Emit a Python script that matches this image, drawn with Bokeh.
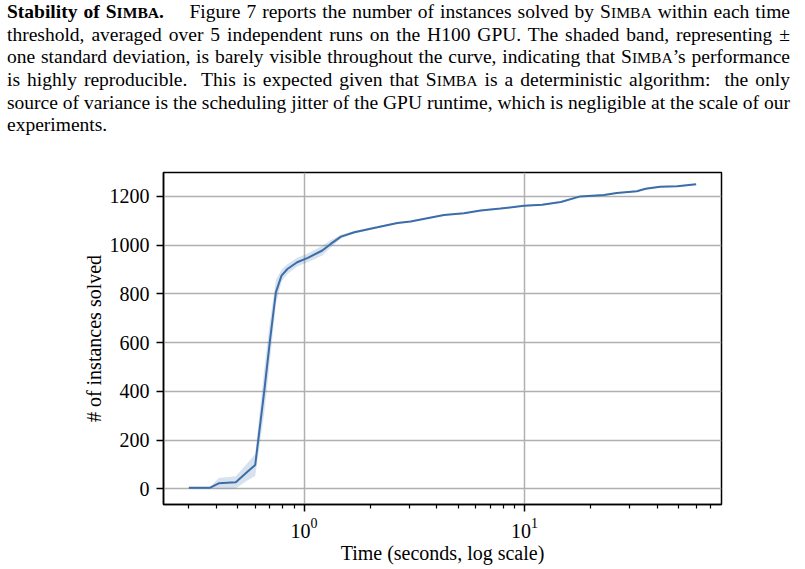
from bokeh.plotting import figure
from bokeh.models import Range1d, FixedTicker, Div, ColumnDataSource
from bokeh.layouts import column
from bokeh.embed import file_html
from bokeh.resources import INLINE

# ---- data ----
time_s = [0.3, 0.375, 0.41, 0.49, 0.55, 0.6, 0.66, 0.70, 0.745, 0.79, 0.84, 0.93,
          1.04, 1.21, 1.32, 1.47, 1.69, 2.15, 2.65, 3.04, 4.31, 5.31, 6.32, 7.78,
          9.93, 12.0, 14.6, 17.9, 22.9, 26.2, 32.3, 35.4, 41.2, 49.3, 60.0]
mean_solved = [5, 5, 23, 27, 68, 98, 403, 608, 807, 875, 902, 930,
               948, 978, 1005, 1035, 1053, 1073, 1091, 1097, 1124, 1131, 1142, 1150,
               1162, 1166, 1177, 1200, 1206, 1214, 1221, 1231, 1240, 1242, 1250]
std_solved = [2, 3, 22, 25, 35, 45, 90, 80, 50, 25, 20, 18,
              18, 20, 15, 8, 5, 4, 3, 3, 3, 3, 3, 3,
              3, 3, 3, 3, 3, 3, 3, 3, 3, 3, 3]
y_ticks = [0, 200, 400, 600, 800, 1000, 1200]
x_major_ticks = [1, 10]
x_minor_ticks = [m * 10 ** k for k in (-1, 0, 1) for m in range(2, 10)]

x_label = "Time (seconds, log scale)"
y_label = "# of instances solved"

LINE = "#3b6ea8"
FONT = "Liberation Serif"
FS = "20px"

lower = [m - s for m, s in zip(mean_solved, std_solved)]
upper = [m + s for m, s in zip(mean_solved, std_solved)]
src = ColumnDataSource(dict(t=time_s, mean=mean_solved, lower=lower, upper=upper))

sc = lambda s: 'S<span style="font-size:0.8em">%s</span>' % s
lines = [
    '<b>Stability of %s.</b>&emsp; Figure 7 reports the number of instances solved by %s within each time' % (sc("IMBA"), sc("IMBA")),
    'threshold, averaged over 5 independent runs on the H100 GPU. The shaded band, representing &plusmn;',
    'one standard deviation, is barely visible throughout the curve, indicating that %s&rsquo;s performance' % sc("IMBA"),
    'is highly reproducible.&nbsp; This is expected given that %s is a deterministic algorithm:&nbsp; the only' % sc("IMBA"),
    'source of variance is the scheduling jitter of the GPU runtime, which is negligible at the scale of our',
]
html = ('<div style="font-family:\'Liberation Serif\',serif;font-size:19.5px;line-height:22px;color:#000;'
        'width:790px;padding-left:7px;padding-top:1px;margin:0;">')
for ln in lines:
    html += '<div style="text-align:justify;text-align-last:justify;white-space:nowrap;">%s</div>' % ln
html += '<div style="text-align:left;">experiments.</div></div>'

div = Div(text=html, width=805, height=140, margin=0)

p = figure(width=805, height=429, x_axis_type="log",
           x_range=Range1d(0.2303, 78.2), y_range=Range1d(-64, 1298),
           output_backend="svg", toolbar_location=None,
           min_border_left=163, min_border_right=84, min_border_top=32, min_border_bottom=65,
           margin=0)

p.varea(x="t", y1="lower", y2="upper", source=src, fill_color=LINE, fill_alpha=0.2)
p.line(x="t", y="mean", source=src, line_color=LINE, line_width=2)

p.xaxis.ticker = FixedTicker(ticks=x_major_ticks, minor_ticks=x_minor_ticks)
p.yaxis.ticker = FixedTicker(ticks=y_ticks, minor_ticks=[])
p.xaxis.axis_label = x_label
p.yaxis.axis_label = y_label

for ax in (p.xaxis, p.yaxis):
    ax.axis_label_text_font = FONT
    ax.axis_label_text_font_style = "normal"
    ax.axis_label_text_font_size = FS
    ax.axis_label_text_color = "black"
    ax.major_label_text_font = FONT
    ax.major_label_text_font_size = FS
    ax.major_label_text_color = "black"
    ax.axis_line_color = "black"
    ax.axis_line_width = 1.5
    ax.major_tick_line_color = "black"
    ax.major_tick_line_width = 1.5
    ax.major_tick_in = 0
    ax.major_tick_out = 7
    ax.minor_tick_line_color = "black"
    ax.minor_tick_line_width = 1.2
    ax.minor_tick_in = 0
    ax.minor_tick_out = 4

p.xaxis.major_label_standoff = 6
p.xaxis.axis_label_standoff = 1
p.yaxis.major_label_standoff = 7
p.yaxis.axis_label_standoff = 2

p.outline_line_color = "black"
p.outline_line_width = 1.5
p.outline_line_alpha = 1.0
for g in (p.xgrid, p.ygrid):
    g.grid_line_color = "#b0b0b0"
    g.grid_line_width = 1.5

layout = column(div, p, margin=0, spacing=0)
open("out.html", "w").write(file_html(layout, INLINE))
